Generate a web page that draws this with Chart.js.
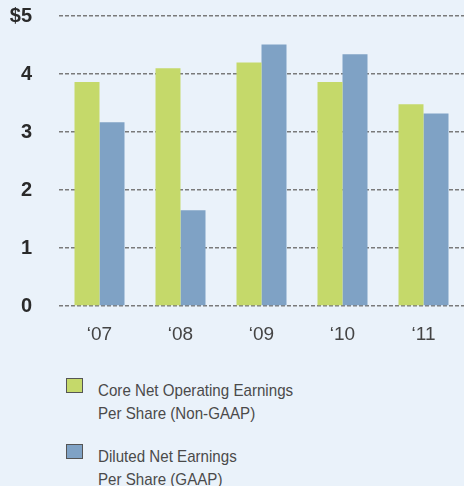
<!DOCTYPE html>
<html>
<head>
<meta charset="utf-8">
<script src="https://cdn.jsdelivr.net/npm/chart.js@4"></script>
<style>
  html, body { margin: 0; padding: 0; background: #eaf2fa; }
  #wrap { position: relative; width: 464px; height: 486px; overflow: hidden; }
  #chart { position: absolute; left: 0; top: 0; }
  .legend-box { position: absolute; left: 66px; width: 15px; height: 13px; border: 1.5px solid #555; }
  .legend-text { position: absolute; left: 98px; width: 300px; white-space: nowrap; transform: scaleX(0.89); transform-origin: 0 0;
                 font-family: 'Liberation Sans', Arial, sans-serif; font-size: 17px; line-height: 23px; color: #4a4a4a; }
</style>
</head>
<body>
<div id="wrap">
  <canvas id="chart" width="464" height="350"></canvas>
  <div id="legend"></div>
</div>
<script>
// ** Earnings per share chart **//
var years = ['\u201807', '\u201808', '\u201809', '\u201810', '\u201811'];
var coreEps = [3.86, 4.10, 4.20, 3.86, 3.48];
var dilutedEps = [3.17, 1.65, 4.51, 4.34, 3.32];
var seriesNames = [
    ['Core Net Operating Earnings', 'Per Share (Non-GAAP)'],
    ['Diluted Net Earnings', 'Per Share (GAAP)']
];
var seriesColors = ['#c5d96a', '#7fa2c5'];
var yTicks = [0, 1, 2, 3, 4, 5];

var sans = "'Liberation Sans', Arial, sans-serif";

var ctx = document.getElementById('chart');
var chart = new Chart(ctx, {
    type: 'bar',
    data: {
        labels: years,
        datasets: [{
            label: seriesNames[0].join(' '),
            data: coreEps,
            backgroundColor: seriesColors[0]
        }, {
            label: seriesNames[1].join(' '),
            data: dilutedEps,
            backgroundColor: seriesColors[1]
        }]
    },
    options: {
        responsive: false,
        animation: false,
        layout: { autoPadding: false, padding: { top: 16, right: 0, bottom: 0, left: 0 } },
        datasets: { bar: { categoryPercentage: 50 / 81, barPercentage: 1 } },
        plugins: { legend: { display: false }, tooltip: { enabled: false } },
        scales: {
            x: {
                grid: { display: false },
                border: { display: false },
                ticks: { color: '#444', padding: 9, font: { family: sans, size: 19 } },
                afterFit: function (s) { s.height = 44; }
            },
            y: {
                min: 0,
                max: 5,
                afterBuildTicks: function (s) { s.ticks = yTicks.map(function (v) { return { value: v }; }); },
                grid: { color: '#7a7a7a', lineWidth: 1.5, drawTicks: false },
                border: { display: false, dash: [4, 2] },
                ticks: {
                    color: '#2a2a2a',
                    padding: 27,
                    font: { family: sans, size: 20, weight: 'bold' },
                    callback: function (v) { return v === 5 ? '$5' : v; }
                },
                afterFit: function (s) {
                    s.width = 59;
                    s.paddingTop = 0;
                    s.paddingBottom = 0;
                }
            }
        }
    }
});

// legend as html so the labels can wrap on two lines
var legend = document.getElementById('legend');
var tops = [378, 444];
seriesNames.forEach(function (name, i) {
    var box = document.createElement('div');
    box.className = 'legend-box';
    box.style.top = tops[i] + 'px';
    box.style.background = seriesColors[i];
    legend.appendChild(box);
    var txt = document.createElement('div');
    txt.className = 'legend-text';
    txt.style.top = (tops[i] + 1) + 'px';
    txt.innerHTML = name.join('<br>');
    legend.appendChild(txt);
});
</script>
</body>
</html>
